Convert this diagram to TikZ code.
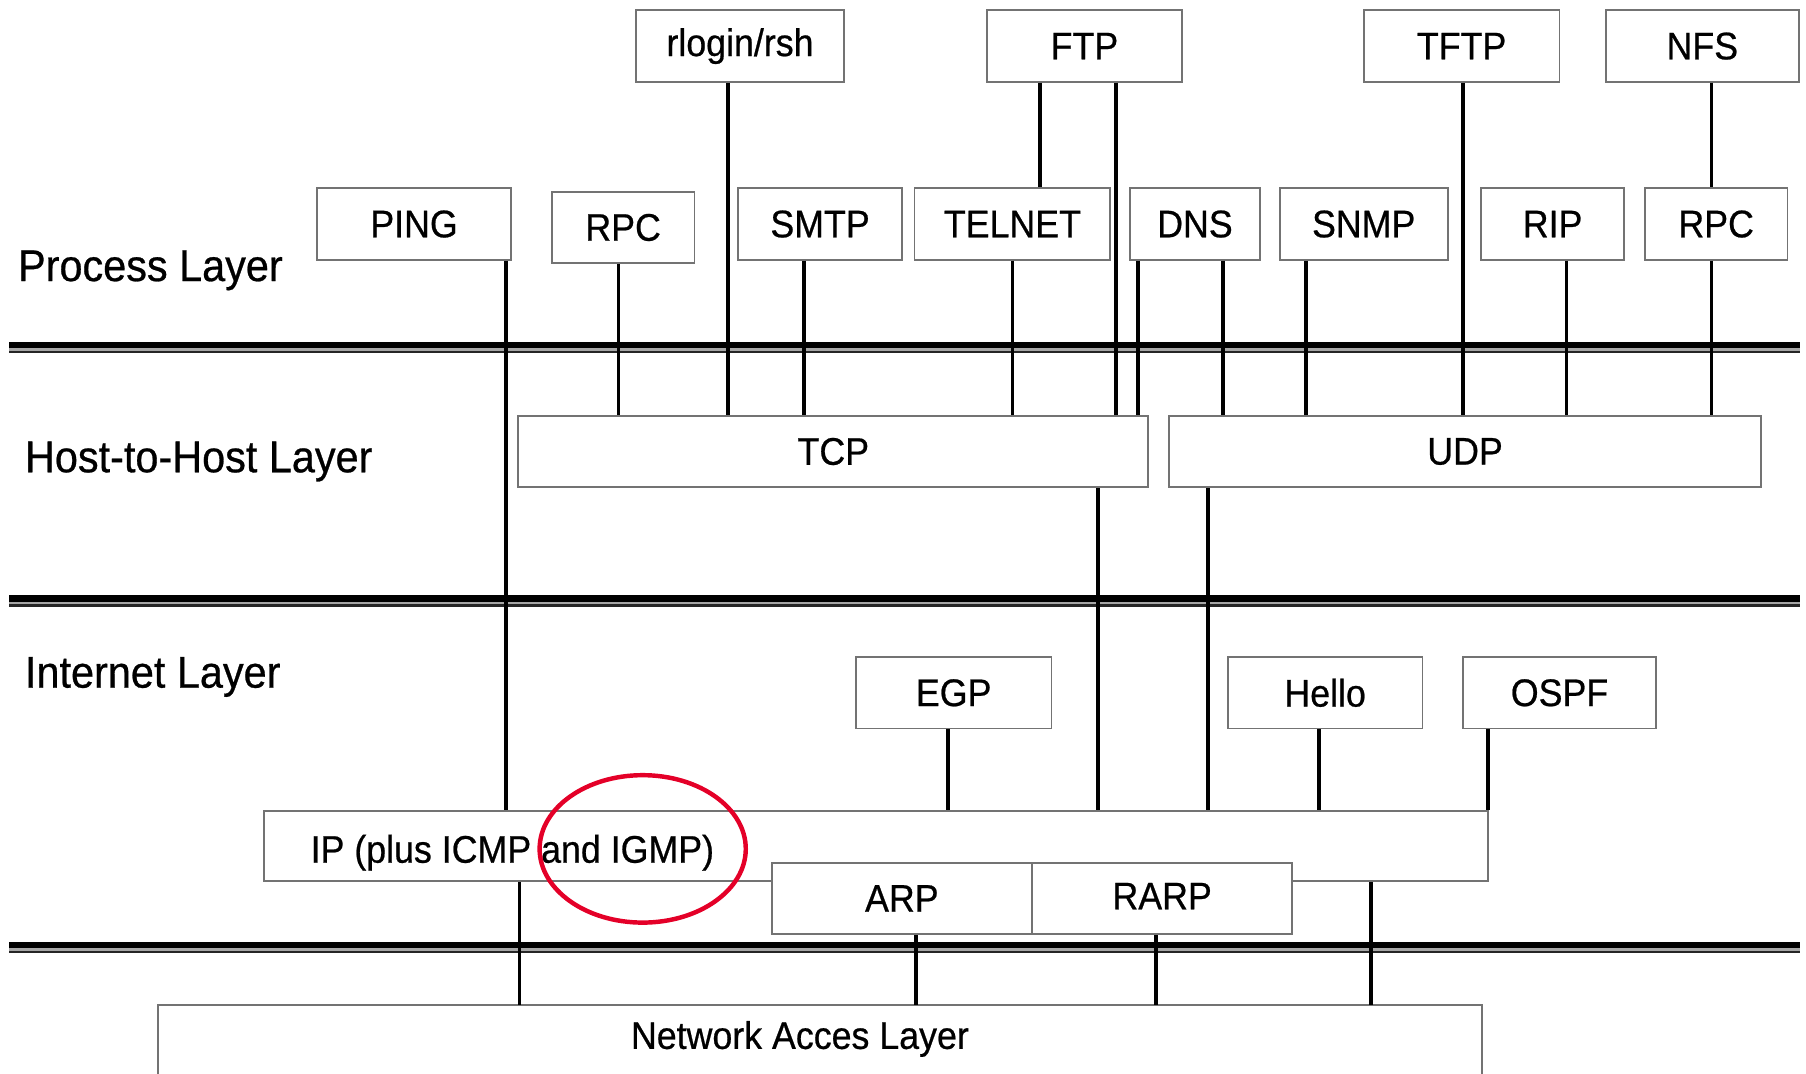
\documentclass[tikz,border=0pt]{standalone}
\usepackage{fontspec}
\setmainfont{Liberation Sans}[FakeStretch=0.93,FakeBold=0.6]
\usepackage{tikz}
\definecolor{markred}{RGB}{228,0,40}

\begin{document}
\begin{tikzpicture}[x=0.1mm,y=-0.1mm,
  proto/.style={draw=black!55,line width=0.45pt,fill=white,minimum height=6.2mm,
    inner sep=0pt,font=\fontsize{9.5}{11}\selectfont},
  tag/.style={inner sep=0pt,font=\fontsize{9.5}{11}\selectfont},
  layer/.style={anchor=base west,inner sep=0pt,font=\fontsize{11}{13}\selectfont},
  link/.style={line width=0.95pt},
  busthick/.style={line width=1.6pt},
  busthin/.style={line width=0.6pt,black!85},
  busgray/.style={line width=0.6pt,black!35}]
  \useasboundingbox (0,0) rectangle (1568,932.4);
  % layer bars
  \foreach \y in {299.5,519.5,820.5} {
    \draw[busgray] (8,\y+3.8) -- (1563,\y+3.8);
    \draw[busthin] (8,\y+6.1) -- (1563,\y+6.1);
    \draw[busthick] (8,\y) -- (1563,\y);
  }
  \node[layer] at (15,244) {Process Layer};
  \node[layer] at (21,410) {Host-to-Host Layer};
  \node[layer] at (21,597) {Internet Layer};
  % process layer
  \node[proto,minimum width=18.1mm] (rlogin) at (642.5,40) {rlogin/rsh};
  \node[proto,minimum width=16.9mm] (ftp) at (941.5,40) {FTP};
  \node[proto,minimum width=17mm] (tftp) at (1269,40) {TFTP};
  \node[proto,minimum width=16.8mm] (nfs) at (1478,40) {NFS};
  \node[proto,minimum width=16.9mm] (ping) at (359.5,194.5) {PING};
  \node[proto,minimum width=12.4mm] (rpca) at (541,197.5) {RPC};
  \node[proto,minimum width=14.2mm] (smtp) at (712,194.5) {SMTP};
  \node[proto,minimum width=17mm] (telnet) at (879,194.5) {TELNET};
  \node[proto,minimum width=11.3mm] (dns) at (1037.5,194.5) {DNS};
  \node[proto,minimum width=14.6mm] (snmp) at (1184,194.5) {SNMP};
  \node[proto,minimum width=12.4mm] (rip) at (1348,194.5) {RIP};
  \node[proto,minimum width=12.4mm] (rpcb) at (1490,194.5) {RPC};
  % host-to-host layer
  \node[proto,minimum width=54.7mm] (tcp) at (723.5,392) {TCP};
  \node[proto,minimum width=51.4mm] (udp) at (1272,392) {UDP};
  % internet layer
  \node[proto,minimum width=17mm] (egp) at (828,601.5) {EGP};
  \node[proto,minimum width=16.9mm] (hello) at (1150.5,601.5) {Hello};
  \node[proto,minimum width=16.8mm] (ospf) at (1354,601.5) {OSPF};
  \node[proto,minimum width=106.3mm,minimum height=6.1mm] (ip) at (760.5,734.5) {};
  \node[tag,anchor=base west] at (269,749) {IP (plus ICMP and IGMP)};
  \node[proto,minimum width=22.6mm] (arp) at (783,780) {\raisebox{-0.2mm}{ARP}};
  \node[proto,minimum width=22.6mm] (rarp) at (1009,780) {\raisebox{0.4mm}{RARP}};
  % network access layer
  \node[tag,minimum width=114.8mm,minimum height=5.9mm] (nal) at (712,902.5) {};
  \node[tag] at (694.5,902) {Network Acces Layer};
  \draw[draw=black!55,line width=0.45pt] (nal.south west) |- (nal.north east) -- (nal.south east);
  % connectors
  \draw[link] (439,0 |- ping.south) -- (439,0 |- ip.north);
  \draw[link] (537,0 |- rpca.south) -- (537,0 |- tcp.north);
  \draw[link] (632,0 |- rlogin.south) -- (632,0 |- tcp.north);
  \draw[link] (698,0 |- smtp.south) -- (698,0 |- tcp.north);
  \draw[link] (879,0 |- telnet.south) -- (879,0 |- tcp.north);
  \draw[link] (903,0 |- ftp.south) -- (903,0 |- telnet.north);
  \draw[link] (969,0 |- ftp.south) -- (969,0 |- tcp.north);
  \draw[link] (988,0 |- dns.south) -- (988,0 |- tcp.north);
  \draw[link] (1062,0 |- dns.south) -- (1062,0 |- udp.north);
  \draw[link] (1134,0 |- snmp.south) -- (1134,0 |- udp.north);
  \draw[link] (1270,0 |- tftp.south) -- (1270,0 |- udp.north);
  \draw[link] (1360,0 |- rip.south) -- (1360,0 |- udp.north);
  \draw[link] (1486,0 |- nfs.south) -- (1486,0 |- rpcb.north);
  \draw[link] (1486,0 |- rpcb.south) -- (1486,0 |- udp.north);
  \draw[link] (953,0 |- tcp.south) -- (953,0 |- ip.north);
  \draw[link] (1049,0 |- udp.south) -- (1049,0 |- ip.north);
  \draw[link] (823,0 |- egp.south) -- (823,0 |- ip.north);
  \draw[link] (1145,0 |- hello.south) -- (1145,0 |- ip.north);
  \draw[link] (1292,0 |- ospf.south) -- (1292,0 |- ip.north);
  \draw[link] (451,0 |- ip.south) -- (451,0 |- nal.north);
  \draw[link] (795,0 |- arp.south) -- (795,0 |- nal.north);
  \draw[link] (1004,0 |- rarp.south) -- (1004,0 |- nal.north);
  \draw[link] (1190,0 |- ip.south) -- (1190,0 |- nal.north);
  % marking
  \draw[markred,line width=1.1pt] (558,737) ellipse [x radius=8.95mm,y radius=6.4mm];
\end{tikzpicture}
\end{document}
